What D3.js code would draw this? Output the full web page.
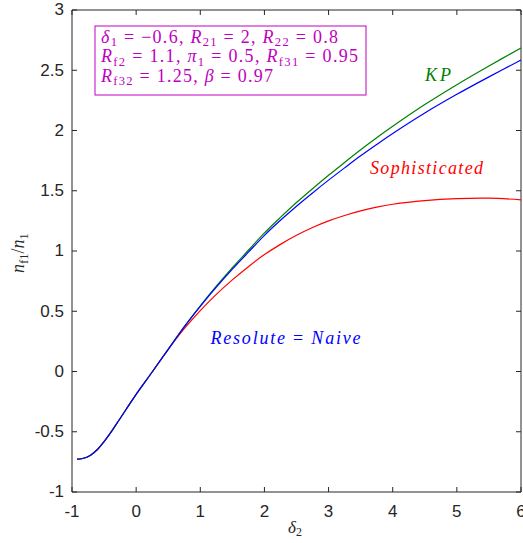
<!DOCTYPE html>
<meta charset="utf-8">
<style>
  body { margin: 0; background: #fff; }
  svg text { font-family: "Liberation Sans", Arial, sans-serif; }
</style>
<svg width="523" height="543"></svg>
<script src="https://cdn.jsdelivr.net/npm/d3@7"></script>
<script>
    // delta_2 grid and the three curves
    const delta2 = [-0.92, -0.85, -0.77, -0.7, -0.6, -0.5, -0.4, -0.25, 0, 0.25, 0.5, 0.75, 1, 1.25, 1.5, 1.75, 2, 2.25, 2.5, 2.75, 3, 3.25, 3.5, 3.75, 4, 4.5, 5, 5.5, 6];
    const naive = [-0.727, -0.724, -0.712, -0.69, -0.645, -0.582, -0.51, -0.39, -0.19, -0.004, 0.184, 0.37, 0.54, 0.70, 0.85, 0.99, 1.13, 1.255, 1.372, 1.482, 1.588, 1.69, 1.79, 1.884, 1.975, 2.145, 2.30, 2.445, 2.585];
    const kp = [-0.727, -0.724, -0.712, -0.69, -0.645, -0.582, -0.51, -0.39, -0.19, -0.004, 0.184, 0.372, 0.545, 0.708, 0.862, 1.006, 1.15, 1.279, 1.402, 1.517, 1.628, 1.735, 1.84, 1.94, 2.035, 2.215, 2.38, 2.535, 2.685];
    const soph = [-0.727, -0.724, -0.712, -0.69, -0.645, -0.582, -0.51, -0.39, -0.19, -0.004, 0.184, 0.355, 0.505, 0.64, 0.76, 0.87, 0.97, 1.055, 1.13, 1.195, 1.25, 1.295, 1.333, 1.364, 1.388, 1.418, 1.434, 1.438, 1.425];
    const xTicks = [-1, 0, 1, 2, 3, 4, 5, 6];
    const yTicks = [-1, -0.5, 0, 0.5, 1, 1.5, 2, 2.5, 3];

    const svg = d3.select("svg");
    const m = { left: 72, right: 521, top: 10, bottom: 492 };
    const x = d3.scaleLinear().domain([-1, 6]).range([m.left, m.right]);
    const y = d3.scaleLinear().domain([-1, 3]).range([m.bottom, m.top]);
    const axisColor = "#262626";
    const magenta = "#bf00bf";

    // axes (box on, ticks inward)
    function styleAxis(g) {
        g.select(".domain").attr("stroke", axisColor);
        g.selectAll(".tick line").attr("stroke", axisColor);
        g.selectAll(".tick text").attr("fill", "#262626").style("font-size", "17px");
    }
    svg.append("g").attr("transform", `translate(0,${m.bottom})`)
        .call(d3.axisBottom(x).tickValues(xTicks).tickFormat(d => String(d)).tickSizeInner(-5).tickSizeOuter(0).tickPadding(13).offset(0))
        .call(styleAxis);
    svg.append("g").attr("transform", `translate(0,${m.top})`)
        .call(d3.axisTop(x).tickValues(xTicks).tickFormat("").tickSizeInner(-5).tickSizeOuter(0).offset(0))
        .call(styleAxis);
    svg.append("g").attr("transform", `translate(${m.left},0)`)
        .call(d3.axisLeft(y).tickValues(yTicks).tickFormat(d => String(d)).tickSizeInner(-5).tickSizeOuter(0).tickPadding(8).offset(0))
        .call(styleAxis);
    svg.append("g").attr("transform", `translate(${m.right},0)`)
        .call(d3.axisRight(y).tickValues(yTicks).tickFormat("").tickSizeInner(-5).tickSizeOuter(0).offset(0))
        .call(styleAxis);

    // curves
    const line = d3.line()
        .x(d => x(d[0]))
        .y(d => y(d[1]))
        .curve(d3.curveCatmullRom.alpha(0.5));
    const series = [
        { vals: soph, color: "#ff0000" },
        { vals: kp, color: "#008000" },
        { vals: naive, color: "#0000ff" }
    ];
    series.forEach(s => {
        svg.append("path")
            .datum(delta2.map((d, i) => [d, s.vals[i]]))
            .attr("fill", "none")
            .attr("stroke", s.color)
            .attr("stroke-width", 1.2)
            .attr("d", line);
    });

    // math-ish text: segments [text, kind] kind: i italic, n normal, s subscript
    function mathText(parent, px, py, segs, color, size, width, anchor) {
        const t = parent.append("text")
            .attr("x", px).attr("y", py)
            .attr("fill", color)
            .attr("text-anchor", anchor || "start")
            .style("font-family", "'Liberation Serif', 'DejaVu Serif', serif")
            .style("font-size", size + "px");
        let prev = null;
        segs.forEach(([str, kind]) => {
            const sp = t.append("tspan").text(str);
            if (kind === "i") sp.style("font-style", "italic");
            if (kind === "s") {
                sp.style("font-size", (size * 0.7) + "px");
                if (prev !== "s") sp.attr("dy", size * 0.2);
            } else if (prev === "s") {
                sp.attr("dy", -size * 0.2);
            }
            prev = kind;
        });
        if (width) t.attr("textLength", width).attr("lengthAdjust", "spacing");
        return t;
    }

    // parameter box
    svg.append("rect")
        .attr("x", 95).attr("y", 26)
        .attr("width", 271).attr("height", 69)
        .attr("fill", "#fff").attr("stroke", magenta).attr("stroke-width", 1);
    const fs = 18;
    mathText(svg, 101, 42.5, [["δ", "i"], ["1", "s"], [" = −0.6, ", "n"], ["R", "i"], ["21", "s"], [" = 2, ", "n"], ["R", "i"], ["22", "s"], [" = 0.8", "n"]], magenta, fs, 237);
    mathText(svg, 101, 62, [["R", "i"], ["f2", "s"], [" = 1.1, ", "n"], ["π", "i"], ["1", "s"], [" = 0.5, ", "n"], ["R", "i"], ["f31", "s"], [" = 0.95", "n"]], magenta, fs, 257);
    mathText(svg, 101, 81.5, [["R", "i"], ["f32", "s"], [" = 1.25, ", "n"], ["β", "i"], [" = 0.97", "n"]], magenta, fs, 172);

    // curve labels
    mathText(svg, 425, 80.5, [["KP", "i"]], "#008000", 18).attr("letter-spacing", 3);
    mathText(svg, 370, 173.5, [["Sophisticated", "i"]], "#ff0000", 18, 113);
    mathText(svg, 210.5, 344, [["Resolute", "i"], [" = ", "n"], ["Naive", "i"]], "#0000ff", 18, 150);

    // axis labels
    mathText(svg, 295, 533, [["δ", "i"], ["2", "s"]], "#262626", 17, null, "middle");
    const yl = mathText(svg, 0, 0, [["n", "i"], ["f1", "s"], ["/", "n"], ["n", "i"], ["1", "s"]], "#262626", 18, null, "middle");
    yl.attr("transform", "translate(24,253) rotate(-90)");
</script>
